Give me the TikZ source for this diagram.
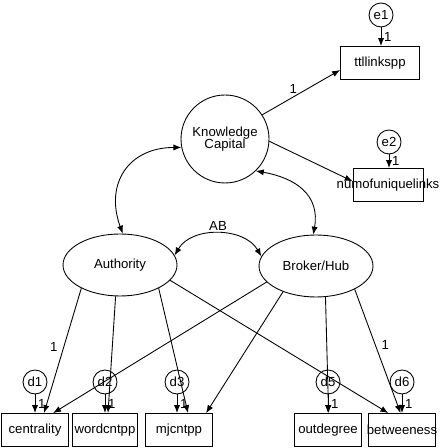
\documentclass[tikz,border=0pt]{standalone}
\usepackage{fontspec}
\setmainfont{Liberation Sans}
\usetikzlibrary{arrows.meta,shapes.geometric}

\begin{document}
\begin{tikzpicture}[x=0.02cm,y=0.02cm,font=\fontsize{7.5}{7}\selectfont,line width=0.5pt,
  lat/.style={circle,draw,minimum size=1.76cm,inner sep=0pt,align=center},
  fac/.style={ellipse,draw,minimum width=2.28cm,minimum height=1.24cm,inner sep=0pt},
  obs/.style={rectangle,draw,minimum width=1.34cm,minimum height=0.66cm,inner sep=1pt},
  err/.style={circle,draw,minimum size=0.48cm,inner sep=0pt},
  arr/.style={-{Latex[length=4.5pt,width=3.5pt]}},
  cov/.style={{Latex[length=4.5pt,width=3.5pt]}-{Latex[length=4.5pt,width=3.5pt]}},
  one/.style={inner sep=1.5pt}]
\useasboundingbox (0,0) rectangle (443,448);
\node[lat] (kc) at (225,309) {Knowledge\\Capital};
\node[fac] (auth) at (120,183) {Authority};
\node[fac] (brok) at (316,182) {Broker/Hub};
\node[obs,minimum width=1.58cm] (ttl) at (380,385) {ttllinkspp};
\node[obs,minimum width=1.4cm] (num) at (388,263) {\makebox[1.2cm]{numofuniquelinks}};
\node[err] (e1) at (381,433) {e1};
\node[err] (e2) at (389,306) {e2};
\node[obs] (cent) at (35,18) {centrality};
\node[obs,minimum width=1.3cm] (word) at (105,18) {wordcntpp};
\node[obs] (mj) at (179,18) {mjcntpp};
\node[obs] (outd) at (328,18) {outdegree};
\node[obs] (betw) at (402,18) {\makebox[1.2cm]{betweeness}};
\node[err] (d1) at (35,66) {d1};
\node[err] (d2) at (105,66) {d2};
\node[err] (d3) at (177,66) {d3};
\node[err] (d5) at (328,66) {d5};
\node[err] (d6) at (402,66) {d6};
\draw[arr] (kc.33) -- node[pos=.4,above,one]{1} (ttl.190);
\draw[arr] (kc.357) -- (num.174);
\draw[arr] (e1) -- node[right,one]{1} (e1 |- ttl.north);
\draw[arr] (e2) -- node[right,one]{1} (e2 |- num.north);
\draw[cov] (kc.191) to[out=180,in=110,looseness=1.3] (auth.85);
\draw[cov] (kc.314) to[out=-10,in=80,looseness=1.2] (brok.95);
\draw[cov] (auth.10) to[out=60,in=120] node[above,one]{AB} (brok.170);
\draw[arr] (auth.211) -- node[pos=.47,left]{1} (cent.62);
\draw[arr] (auth.262) -- (word.80);
\draw[arr] (auth.329) -- (mj.62);
\draw[arr] (auth.343) -- (betw.129);
\draw[arr] (brok.198) -- (cent.43);
\draw[arr] (brok.218) -- (mj.32);
\draw[arr] (brok.287) -- (outd.88);
\draw[arr] (brok.329) -- node[pos=.45,right]{1} (betw.95);
\foreach \d/\o in {d1/cent,d2/word,d3/mj,d5/outd,d6/betw}
  \draw[arr] (\d) -- node[right,one]{1} (\d |- \o.north);
\end{tikzpicture}
\end{document}
